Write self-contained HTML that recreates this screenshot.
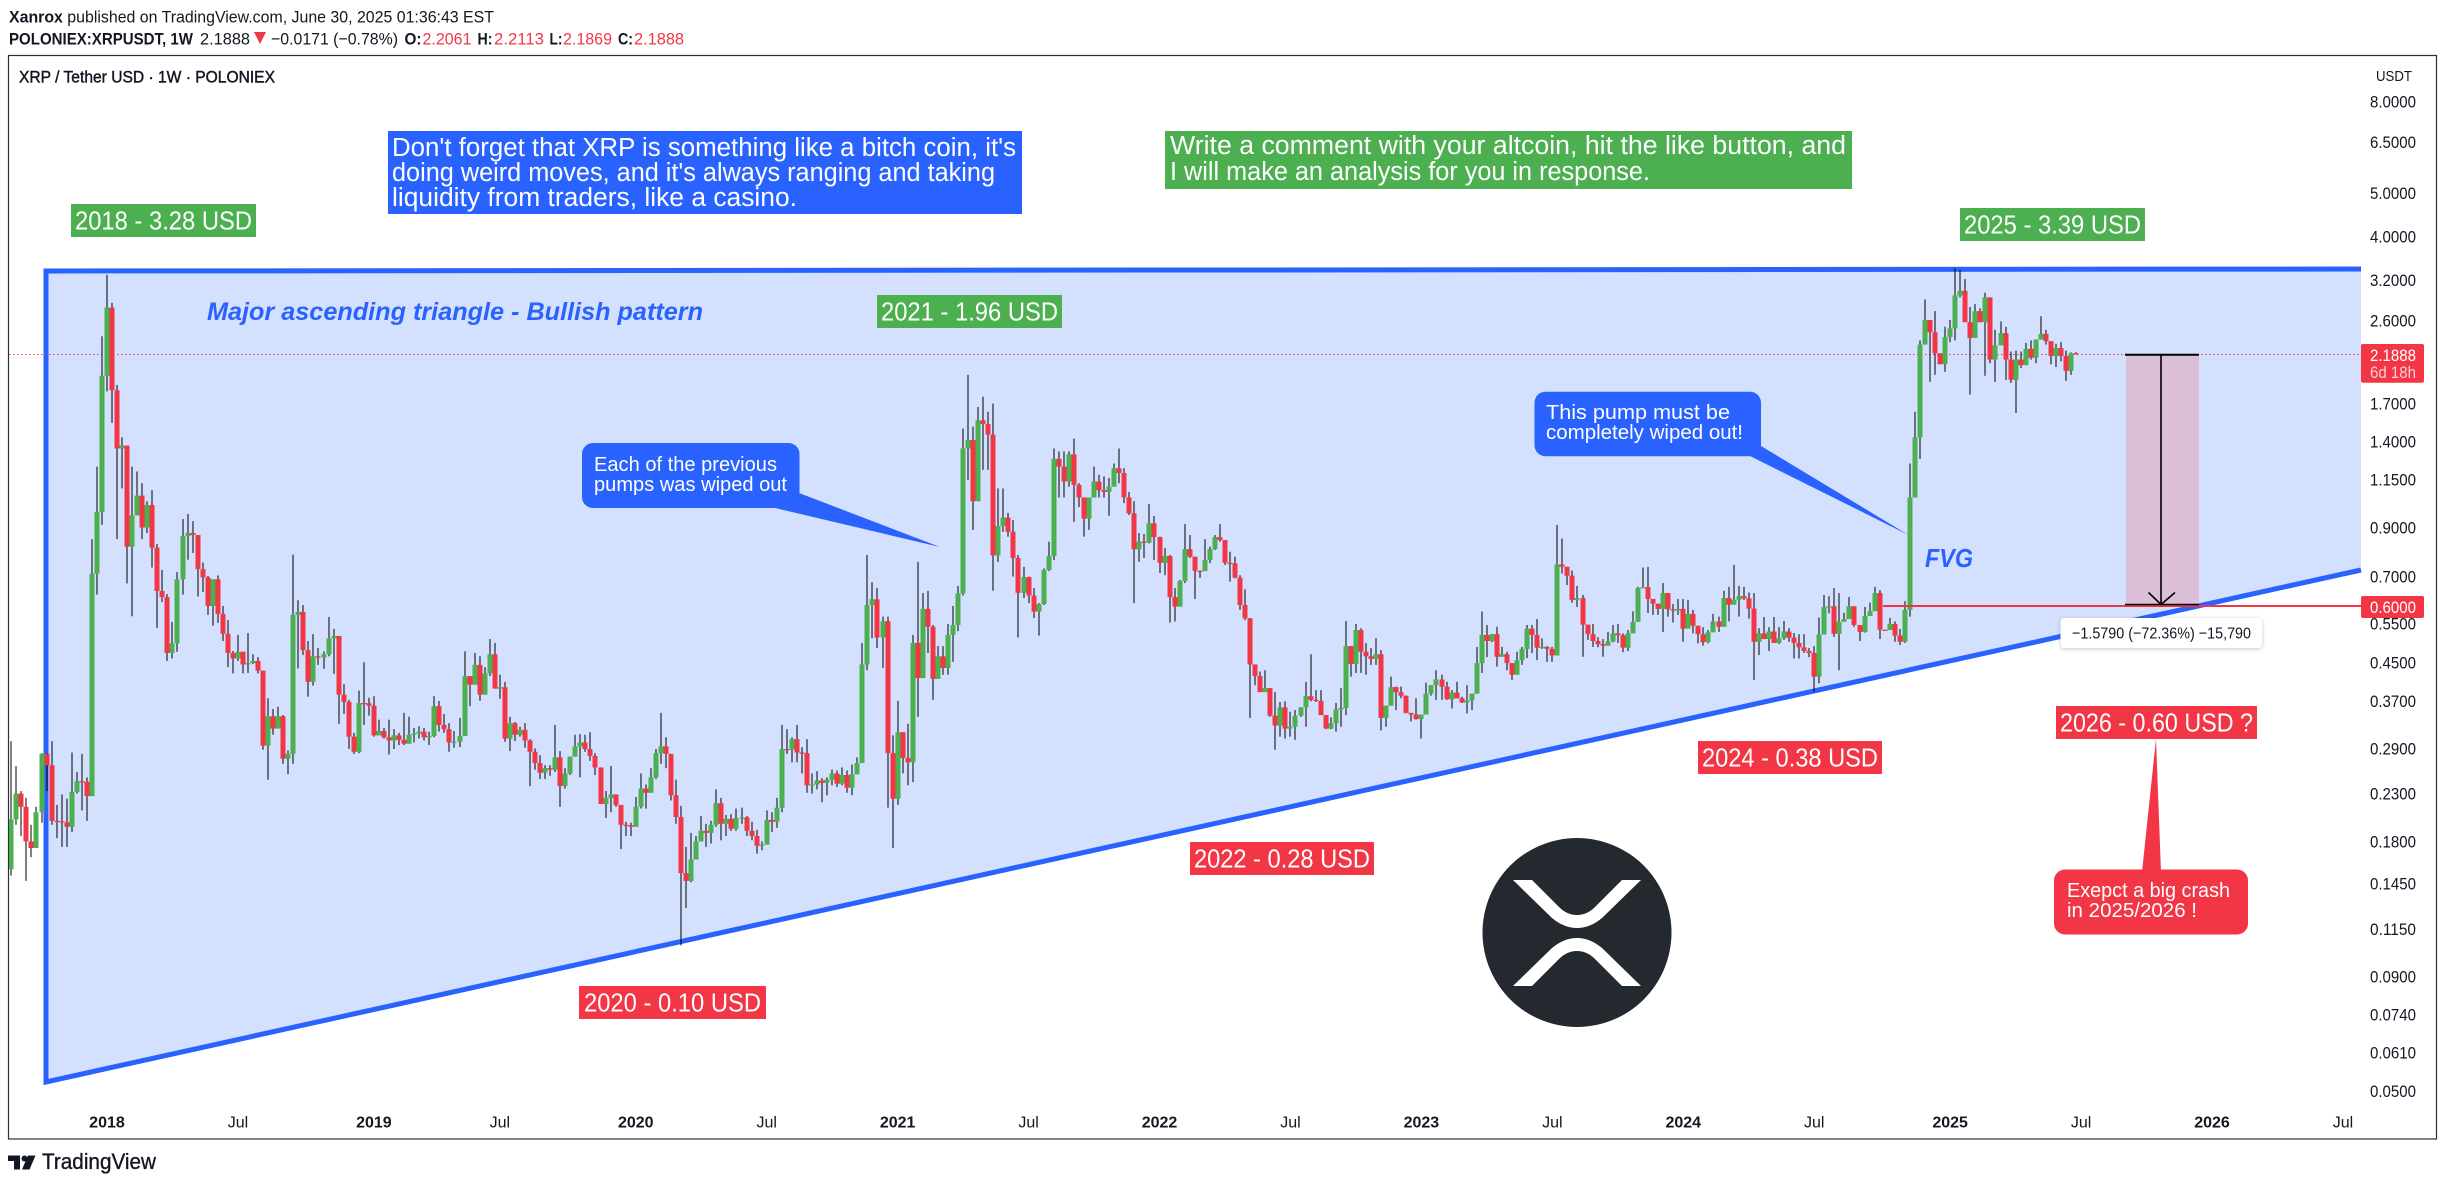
<!DOCTYPE html>
<html lang="en">
<head>
<meta charset="utf-8">
<title>XRP / Tether USD weekly chart</title>
<style>
html,body{margin:0;padding:0;background:#fff;width:2446px;height:1186px;overflow:hidden}
svg{display:block}
text{font-family:"Liberation Sans",sans-serif;fill:#131722}
.w{fill:#fff}
.big{font-size:25.5px;fill:#fff}
.call{font-size:20.5px;fill:#fff}
.r{fill:#f23645}
</style>
</head>
<body>
<svg id="chart" xmlns="http://www.w3.org/2000/svg" width="2446" height="1186" viewBox="0 0 2446 1186">
<defs>
<clipPath id="pane-clip"><rect x="9" y="56" width="2352" height="1082"/></clipPath>
<filter id="soft" x="-10%" y="-30%" width="120%" height="170%"><feDropShadow dx="0" dy="1" stdDeviation="2" flood-color="#000" flood-opacity="0.22"/></filter>
</defs>

<text x="9" y="22.5" font-size="16.5" textLength="485" lengthAdjust="spacingAndGlyphs"><tspan font-weight="bold">Xanrox</tspan> published on TradingView.com, June 30, 2025 01:36:43 EST</text>

<g font-size="17">
<text x="9" y="44.5" font-weight="bold" textLength="184" lengthAdjust="spacingAndGlyphs">POLONIEX:XRPUSDT, 1W</text>
<text x="200" y="44.5" textLength="50" lengthAdjust="spacingAndGlyphs">2.1888</text>
<polygon points="254,32 266,32 260,44" fill="#f23645"/>
<text x="271" y="44.5" textLength="127" lengthAdjust="spacingAndGlyphs">−0.0171 (−0.78%)</text>
<text x="404.5" y="44.5" font-weight="bold" textLength="17" lengthAdjust="spacingAndGlyphs">O:</text>
<text class="r" x="422.5" y="44.5" textLength="49" lengthAdjust="spacingAndGlyphs">2.2061</text>
<text x="477.5" y="44.5" font-weight="bold" textLength="15" lengthAdjust="spacingAndGlyphs">H:</text>
<text class="r" x="494" y="44.5" textLength="50" lengthAdjust="spacingAndGlyphs">2.2113</text>
<text x="549.5" y="44.5" font-weight="bold" textLength="13" lengthAdjust="spacingAndGlyphs">L:</text>
<text class="r" x="563" y="44.5" textLength="49" lengthAdjust="spacingAndGlyphs">2.1869</text>
<text x="618" y="44.5" font-weight="bold" textLength="15" lengthAdjust="spacingAndGlyphs">C:</text>
<text class="r" x="634" y="44.5" textLength="50" lengthAdjust="spacingAndGlyphs">2.1888</text>
</g>

<rect x="8.5" y="55.5" width="2428" height="1083.5" fill="none" stroke="#2a2e39" stroke-width="1.2"/>

<text x="19" y="82.5" font-size="16.5" textLength="256" lengthAdjust="spacingAndGlyphs" style="stroke:#131722;stroke-width:.45px">XRP / Tether USD · 1W · POLONIEX</text>
<text x="2376" y="81" font-size="14.5" textLength="36" lengthAdjust="spacingAndGlyphs">USDT</text>

<polygon points="46,271 2361,269 2361,570 46,1082" fill="#d3e0fe"/>
<polyline points="2361,269 46,271 46,1082 2361,570" fill="none" stroke="#2962ff" stroke-width="5" stroke-linejoin="miter"/>

<line x1="9" x2="2361" y1="354.5" y2="354.5" stroke="#f23645" stroke-width="1" stroke-dasharray="1.5 2.5"/>

<rect x="2126" y="355" width="73" height="250" fill="#dbbfd9"/>

<g id="candles" clip-path="url(#pane-clip)"></g>

<line x1="1883" x2="2361" y1="606" y2="606" stroke="#f23645" stroke-width="2"/>
<line x1="2125" x2="2199" y1="354.8" y2="354.8" stroke="#000" stroke-width="2"/>
<line x1="2125" x2="2199" y1="604.5" y2="604.5" stroke="#000" stroke-width="1.5"/>
<line x1="2161" x2="2161" y1="355" y2="604" stroke="#000" stroke-width="1.6"/>
<polyline points="2148.5,592.5 2161,604.5 2175,592.5" fill="none" stroke="#000" stroke-width="1.6"/>

<g>
<rect x="2060.5" y="618" width="201.5" height="30" rx="4" fill="#fff" filter="url(#soft)"/>
<text x="2072" y="638.5" font-size="16" textLength="179" lengthAdjust="spacingAndGlyphs">−1.5790 (−72.36%) −15,790</text>
</g>

<text x="207" y="320" font-size="25" font-style="italic" font-weight="bold" style="fill:#2962ff" textLength="496" lengthAdjust="spacingAndGlyphs">Major ascending triangle - Bullish pattern</text>
<text x="1925" y="567" font-size="26" font-style="italic" font-weight="bold" style="fill:#2962ff" textLength="48" lengthAdjust="spacingAndGlyphs">FVG</text>

<g>
<rect x="388" y="131" width="634" height="83" fill="#2962ff"/>
<text class="big" x="392" y="156" textLength="624" lengthAdjust="spacingAndGlyphs">Don't forget that XRP is something like a bitch coin, it's</text>
<text class="big" x="392" y="181" textLength="603" lengthAdjust="spacingAndGlyphs">doing weird moves, and it's always ranging and taking</text>
<text class="big" x="392" y="206" textLength="405" lengthAdjust="spacingAndGlyphs">liquidity from traders, like a casino.</text>
</g>
<g>
<rect x="1165" y="131" width="687" height="58" fill="#4caf50"/>
<text class="big" x="1170" y="154" textLength="676" lengthAdjust="spacingAndGlyphs">Write a comment with your altcoin, hit the like button, and</text>
<text class="big" x="1170" y="180" textLength="480" lengthAdjust="spacingAndGlyphs">I will make an analysis for you in response.</text>
</g>

<g><rect x="71" y="204" width="185" height="33" fill="#4caf50"/><text class="big" x="75" y="229.5" textLength="177" lengthAdjust="spacingAndGlyphs">2018 - 3.28 USD</text></g>
<g><rect x="877" y="295" width="185" height="33" fill="#4caf50"/><text class="big" x="881" y="320.5" textLength="177" lengthAdjust="spacingAndGlyphs">2021 - 1.96 USD</text></g>
<g><rect x="1960" y="208" width="185" height="33" fill="#4caf50"/><text class="big" x="1964" y="233.5" textLength="177" lengthAdjust="spacingAndGlyphs">2025 - 3.39 USD</text></g>
<g><rect x="579" y="986" width="187" height="33" fill="#f23645"/><text class="big" x="584" y="1011.5" textLength="177" lengthAdjust="spacingAndGlyphs">2020 - 0.10 USD</text></g>
<g><rect x="1190" y="842" width="184" height="33" fill="#f23645"/><text class="big" x="1194" y="867.5" textLength="176" lengthAdjust="spacingAndGlyphs">2022 - 0.28 USD</text></g>
<g><rect x="1698" y="741" width="184" height="33" fill="#f23645"/><text class="big" x="1702" y="766.5" textLength="176" lengthAdjust="spacingAndGlyphs">2024 - 0.38 USD</text></g>
<g><rect x="2056" y="706" width="201" height="33" fill="#f23645"/><text class="big" x="2060" y="731.5" textLength="193" lengthAdjust="spacingAndGlyphs">2026 - 0.60 USD ?</text></g>

<g>
<polygon points="799,493 775,508 940,547" fill="#2962ff"/>
<rect x="582" y="443" width="217.5" height="65" rx="11" fill="#2962ff"/>
<text class="call" x="594" y="471" textLength="183" lengthAdjust="spacingAndGlyphs">Each of the previous</text>
<text class="call" x="594" y="491" textLength="193" lengthAdjust="spacingAndGlyphs">pumps was wiped out</text>
</g>
<g>
<polygon points="1761,446 1750,456 1908.5,535" fill="#2962ff"/>
<rect x="1534.5" y="391.7" width="226.5" height="64.5" rx="11" fill="#2962ff"/>
<text class="call" x="1546" y="419" textLength="184" lengthAdjust="spacingAndGlyphs">This pump must be</text>
<text class="call" x="1546" y="439" textLength="197" lengthAdjust="spacingAndGlyphs">completely wiped out!</text>
</g>
<g>
<polygon points="2156,739 2142,872 2161,872" fill="#f23645"/>
<rect x="2054" y="869.5" width="194" height="65" rx="11" fill="#f23645"/>
<text class="call" x="2067" y="897" textLength="163" lengthAdjust="spacingAndGlyphs">Exepct a big crash</text>
<text class="call" x="2067" y="917" textLength="130" lengthAdjust="spacingAndGlyphs">in 2025/2026 !</text>
</g>

<g>
<circle cx="1577" cy="932.5" r="94.5" fill="#23292f"/>
<path fill="#fff" d="M1513 880 L1552 918 Q1564 928 1577 928 Q1590 928 1602 918 L1641 880 H1622 L1595 907 Q1587 915 1577 915 Q1567 915 1559 907 L1532 880 Z"/>
<path fill="#fff" d="M1513 986 L1552 948 Q1564 938 1577 938 Q1590 938 1602 948 L1641 986 H1622 L1595 959 Q1587 951 1577 951 Q1567 951 1559 959 L1532 986 Z"/>
</g>

<g id="y-axis"></g>
<g id="x-axis"></g>

<g>
<rect x="2361" y="344" width="63" height="38.7" rx="2" fill="#f23645"/>
<text class="w" x="2370" y="361" font-size="16.5" textLength="46" lengthAdjust="spacingAndGlyphs">2.1888</text>
<text x="2370" y="378" font-size="16.5" style="fill:#fbd0d5" textLength="46" lengthAdjust="spacingAndGlyphs">6d 18h</text>
</g>
<g>
<rect x="2361" y="596" width="63" height="22" rx="2" fill="#f23645"/>
<text class="w" x="2370" y="613" font-size="16.5" textLength="46" lengthAdjust="spacingAndGlyphs">0.6000</text>
</g>

<g>
<path fill="#131722" d="M8 1155.5 H20 V1169.5 H14 V1161 H8 Z M28 1155.5 H35.5 L29.5 1169.5 H22 Z"/>
<circle cx="24.5" cy="1158.5" r="3" fill="#131722"/>
<text x="42" y="1169" font-size="22" style="stroke:#131722;stroke-width:.35px" textLength="114" lengthAdjust="spacingAndGlyphs">TradingView</text>
</g>
</svg>

<script>
const firstOpen = 0.156;
const closes = [
.2015,.23,.215,.18,.174,.209,.282,.266,.2,.1995,
.1985,.194,.232,.245,.2445,.227,.71,.975,1.96,2.78,
1.82,1.35,1.37,.816,.958,1.06,.90,1.01,.812,.65,
.63,.473,.497,.69,.862,.875,.866,.727,.697,.602,
.69,.578,.522,.473,.46,.476,.446,.449,.454,.432,
.294,.342,.321,.342,.275,.282,.575,.584,.48,.408,
.465,.462,.47,.51,.516,.382,.368,.308,.285,.366,
.3655,.361,.31,.317,.307,.302,.31,.303,.297,.311,
.313,.316,.307,.309,.36,.327,.32,.299,.3,.309,
.42,.402,.445,.382,.426,.47,.394,.397,.305,.33,
.311,.319,.302,.285,.269,.256,.262,.26,.277,.239,
.255,.278,.293,.299,.289,.279,.263,.218,.225,.229,
.217,.196,.1955,.194,.215,.236,.231,.25,.283,.293,
.282,.228,.204,.153,.147,.164,.18,.19,.188,.196,
.219,.197,.202,.192,.203,.2035,.19,.185,.176,.177,
.201,.199,.214,.289,.288,.304,.284,.283,.24,.241,
.246,.243,.247,.255,.242,.253,.237,.254,.269,.446,
.605,.623,.512,.557,.283,.224,.315,.276,.27,.498,
.416,.593,.541,.414,.465,.438,.519,.546,.642,1.35,
1.41,1.03,1.56,1.53,1.45,.78,.907,.947,.881,.77,
.644,.698,.635,.585,.608,.724,.778,1.28,1.23,1.14,
1.31,1.12,1.05,.942,1.05,1.14,1.09,1.08,1.11,1.22,
1.19,1.05,.968,.805,.837,.833,.92,.857,.751,.778,
.63,.6,.684,.806,.775,.721,.72,.762,.806,.857,
.844,.751,.749,.696,.605,.565,.446,.42,.387,.395,
.343,.326,.358,.321,.324,.343,.358,.379,.372,.37,
.344,.321,.33,.354,.357,.49,.447,.532,.476,.465,
.459,.47,.339,.361,.397,.387,.38,.348,.345,.337,
.345,.384,.401,.413,.398,.373,.386,.375,.367,.371,
.384,.449,.519,.503,.521,.464,.47,.449,.423,.456,
.483,.536,.519,.486,.488,.483,.467,.745,.736,.703,
.621,.627,.547,.521,.503,.495,.491,.502,.523,.518,
.486,.523,.555,.66,.663,.624,.609,.593,.643,.592,
.588,.593,.536,.578,.544,.521,.5,.526,.556,.541,
.627,.606,.621,.633,.626,.594,.501,.523,.508,.528,
.498,.51,.528,.512,.498,.487,.478,.473,.419,.52,
.599,.601,.522,.555,.563,.601,.546,.527,.572,.586,
.643,.533,.532,.549,.517,.501,.59,1.05,1.43,2.3,
2.61,2.45,2.2,2.08,2.39,2.5,2.96,3.03,2.58,2.38,
2.73,2.58,2.93,2.13,2.29,2.44,2.13,1.92,2.13,2.07,
2.25,2.15,2.36,2.43,2.34,2.17,2.26,2.17,2.01,2.2,2.1888];
const highs = [
.301,.265,.233,.225,.196,.215,.283,.283,.301,.217,
.229,.224,.284,.257,.282,.25,.848,1.23,2.4,3.29,
2.85,1.87,1.43,1.37,1.23,1.2,1.13,1.03,1.09,.827,
.724,.64,.555,.716,.94,.965,.93,.866,.752,.702,
.69,.704,.602,.56,.478,.519,.476,.524,.47,.463,
.432,.375,.355,.359,.344,.287,.783,.62,.605,.503,
.521,.485,.477,.569,.535,.516,.403,.372,.314,.39,
.451,.376,.379,.336,.322,.336,.32,.314,.348,.341,
.322,.325,.322,.316,.379,.37,.346,.33,.317,.339,
.477,.42,.473,.465,.44,.508,.498,.423,.408,.341,
.332,.324,.33,.304,.29,.28,.266,.266,.327,.286,
.262,.278,.311,.312,.311,.315,.283,.263,.233,.265,
.229,.217,.199,.198,.226,.255,.241,.262,.289,.348,
.307,.282,.247,.216,.175,.188,.185,.205,.197,.2,
.235,.225,.206,.207,.213,.214,.205,.199,.191,.18,
.211,.209,.225,.327,.32,.307,.327,.292,.304,.255,
.258,.249,.25,.26,.259,.263,.259,.267,.277,.498,
.782,.68,.66,.57,.57,.31,.37,.315,.329,.519,
.755,.643,.65,.546,.49,.49,.549,.602,.667,1.495,
1.97,1.51,1.67,1.76,1.63,1.7,1.1,1.1,.97,.935,
.782,.736,.7,.66,.611,.73,.837,1.35,1.33,1.33,
1.33,1.42,1.13,1.05,1.05,1.23,1.18,1.17,1.16,1.25,
1.35,1.22,1.08,1.03,.875,.871,1.015,.955,.859,.81,
.782,.66,.688,.916,.866,.775,.722,.848,.816,.866,
.916,.844,.795,.775,.705,.656,.566,.446,.43,.433,
.395,.387,.368,.369,.35,.353,.358,.408,.47,.391,
.391,.344,.34,.366,.395,.557,.49,.549,.537,.498,
.485,.51,.48,.361,.419,.398,.398,.38,.348,.375,
.345,.406,.401,.433,.423,.408,.391,.408,.378,.401,
.384,.488,.585,.546,.521,.541,.488,.476,.449,.476,
.488,.546,.546,.563,.51,.49,.488,.912,.851,.736,
.722,.667,.637,.547,.549,.513,.508,.527,.546,.549,
.523,.532,.586,.664,.733,.735,.624,.609,.677,.643,
.608,.624,.624,.621,.59,.544,.54,.532,.578,.57,
.651,.664,.743,.667,.664,.645,.643,.537,.569,.54,
.569,.54,.557,.537,.524,.521,.521,.485,.49,.567,
.637,.633,.66,.643,.581,.63,.601,.546,.599,.612,
.664,.653,.533,.566,.556,.535,.617,1.25,1.63,2.35,
2.9,2.6,2.73,2.2,2.52,2.61,3.4,3.37,3.22,2.79,
2.83,2.77,3.0,2.93,2.48,2.59,2.52,2.22,2.23,2.22,
2.32,2.35,2.36,2.66,2.48,2.34,2.31,2.33,2.23,2.21,2.2113];
const lows = [
.151,.196,.185,.147,.166,.174,.198,.233,.196,.183,
.175,.175,.189,.23,.211,.2,.229,.638,.912,1.81,
1.54,.848,1.1,.676,.571,.958,.848,.875,.733,.538,
.614,.454,.46,.476,.638,.763,.79,.632,.647,.575,
.544,.552,.503,.44,.426,.454,.426,.427,.447,.426,
.288,.247,.311,.321,.268,.254,.268,.437,.468,.378,
.4,.445,.436,.465,.425,.329,.346,.289,.282,.283,
.327,.343,.308,.31,.305,.281,.289,.295,.295,.297,
.299,.305,.302,.295,.307,.316,.314,.285,.291,.292,
.309,.36,.402,.37,.382,.42,.394,.374,.3,.286,
.301,.308,.291,.239,.26,.248,.248,.252,.257,.215,
.236,.253,.278,.25,.285,.272,.253,.218,.203,.209,
.215,.173,.185,.185,.194,.213,.213,.231,.248,.268,
.262,.222,.197,.1056,.128,.146,.164,.18,.175,.178,
.194,.181,.185,.19,.19,.197,.185,.181,.169,.172,
.177,.189,.193,.209,.282,.27,.27,.255,.231,.23,
.235,.22,.228,.24,.238,.24,.231,.228,.254,.269,
.433,.51,.485,.438,.214,.174,.217,.255,.24,.244,
.341,.416,.473,.372,.414,.423,.423,.452,.529,.635,
1.15,.889,1.03,1.21,1.21,.651,.755,.88,.859,.70,
.512,.627,.611,.566,.517,.605,.72,.762,1.05,1.05,
1.11,.927,1.0,.859,.889,1.05,1.05,1.05,.956,1.11,
1.13,1.02,.96,.611,.755,.77,.83,.762,.713,.705,
.553,.556,.6,.677,.77,.624,.695,.72,.75,.802,
.837,.743,.682,.694,.59,.56,.339,.401,.387,.391,
.341,.288,.308,.305,.308,.303,.341,.324,.369,.368,
.344,.32,.32,.316,.324,.344,.419,.427,.427,.423,
.445,.445,.318,.324,.361,.353,.375,.347,.333,.336,
.305,.345,.38,.372,.372,.372,.356,.375,.366,.347,
.353,.384,.427,.463,.5,.441,.464,.433,.412,.423,
.445,.461,.473,.456,.483,.452,.452,.467,.711,.67,
.612,.599,.464,.506,.488,.487,.464,.491,.5,.498,
.475,.478,.523,.555,.66,.581,.575,.575,.527,.57,
.553,.575,.501,.536,.523,.497,.491,.497,.526,.527,
.541,.556,.606,.57,.621,.564,.412,.468,.508,.478,
.498,.495,.506,.501,.46,.46,.473,.463,.388,.405,
.52,.58,.514,.433,.555,.563,.541,.503,.525,.572,
.586,.508,.531,.532,.501,.493,.498,.57,1.05,1.28,
2.3,1.9,1.97,2.08,2.0,2.33,2.35,2.93,2.58,1.78,
2.38,2.58,1.96,2.09,1.9,2.29,1.92,1.89,1.62,2.04,
2.07,2.13,2.09,2.36,2.3,2.08,2.05,2.11,1.91,1.97,2.1869];
const priceTicks = [8,6.5,5,4,3.2,2.6,1.7,1.4,1.15,0.9,0.7,0.55,0.45,0.37,0.29,0.23,0.18,0.145,0.115,0.09,0.074,0.061,0.05];
const timeTickLabels = ["2018","Jul","2019","Jul","2020","Jul","2021","Jul","2022","Jul","2023","Jul","2024","Jul","2025","Jul","2026","Jul"];
const timeTickBars = [19,45,72,97,124,150,176,202,228,254,280,306,332,358,385,411,437,463];

const SVG_NS = "http://www.w3.org/2000/svg";
function priceToY(p){ return 507 - 195 * Math.log(p); }
function barToX(i){ return 11.3 + 5.036 * i; }

const candleGroup = document.getElementById("candles");
closes.forEach(function(close, i){
  const open = i === 0 ? firstOpen : closes[i - 1];
  const up = close >= open;
  const cx = Math.round(barToX(i));
  const wick = document.createElementNS(SVG_NS, "rect");
  
  
  wick.setAttribute("x", cx - 0.5);
  wick.setAttribute("width", 1);
  wick.setAttribute("y", priceToY(highs[i]));
  wick.setAttribute("height", Math.max(1, priceToY(lows[i]) - priceToY(highs[i])));
  wick.setAttribute("fill", "#000");
  candleGroup.appendChild(wick);
  const body = document.createElementNS(SVG_NS, "rect");
  
  
  const top = priceToY(Math.max(open, close));
  const bot = priceToY(Math.min(open, close));
  body.setAttribute("x", cx - 2.5);
  body.setAttribute("width", 5);
  body.setAttribute("y", top);
  body.setAttribute("height", Math.max(1.2, bot - top));
  body.setAttribute("fill", up ? "#4caf50" : "#f23645");
  candleGroup.appendChild(body);
});

const yAxis = document.getElementById("y-axis");
priceTicks.forEach(function(p){
  const t = document.createElementNS(SVG_NS, "text");
  
  
  t.setAttribute("x", 2370);
  t.setAttribute("y", priceToY(p) + 6);
  t.setAttribute("font-size", "16.5");
  t.setAttribute("textLength", "46");
  t.setAttribute("lengthAdjust", "spacingAndGlyphs");
  t.textContent = p.toFixed(4);
  yAxis.appendChild(t);
});

const xAxis = document.getElementById("x-axis");
timeTickLabels.forEach(function(label, i){
  const t = document.createElementNS(SVG_NS, "text");
  
  
  t.setAttribute("x", barToX(timeTickBars[i]));
  t.setAttribute("y", 1127.5);
  t.setAttribute("font-size", "16");
  t.setAttribute("text-anchor", "middle");
  if (label !== "Jul") t.setAttribute("font-weight", "bold");
  t.textContent = label;
  xAxis.appendChild(t);
});
</script>
</body>
</html>
